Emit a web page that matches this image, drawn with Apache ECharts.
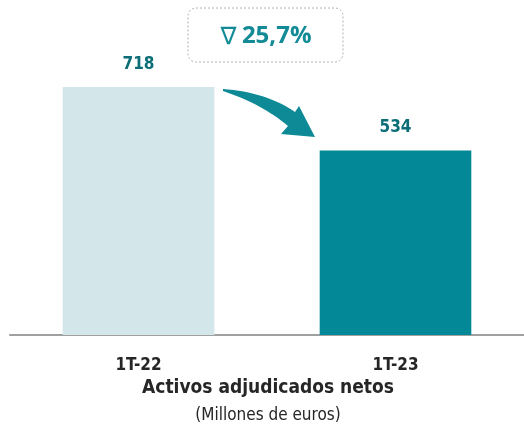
<!DOCTYPE html>
<html>
<head>
<meta charset="utf-8">
<script src="https://cdn.jsdelivr.net/npm/echarts@6/dist/echarts.min.js"></script>
<style>
  html, body { margin: 0; padding: 0; background: #fff; }
  #chart { width: 524px; height: 429px; }
</style>
</head>
<body>
<div id="chart"></div>
<script>
  // datos
  const categories = ['1T-22', '1T-23'];
  const values = [718, 534];
  const barColors = ['#d3e6e9', '#028896'];
  const changeSymbol = '\u2207';
  const changeLabel = '25,7%';

  const font = '"Liberation Sans Narrow", "DejaVu Sans Condensed", "Liberation Sans", Arial, sans-serif';
  const chart = echarts.init(document.getElementById('chart'));

  // contorno de la flecha curva (curvas cuadraticas muestreadas)
  function quad(p0, c, p1, n) {
    const pts = [];
    for (let i = 0; i <= n; i++) {
      const t = i / n, u = 1 - t;
      pts.push([u * u * p0[0] + 2 * u * t * c[0] + t * t * p1[0],
                u * u * p0[1] + 2 * u * t * c[1] + t * t * p1[1]]);
    }
    return pts;
  }
  const arrowPts = quad([223, 89], [266, 92], [295, 112], 16)
    .concat([[299, 106], [315, 137], [281, 134]])
    .concat(quad([288, 126], [262, 104], [223, 91], 16));

  chart.setOption({
    animation: false,
    grid: { left: 10, right: -3, top: 87, bottom: 94 },
    xAxis: {
      type: 'category',
      data: categories,
      axisTick: { show: false },
      axisLine: { lineStyle: { color: '#a0a0a0', width: 2 } },
      axisLabel: {
        color: '#262626', fontFamily: font, fontWeight: 'bold', fontSize: 17, margin: 22
      }
    },
    yAxis: { type: 'value', min: 0, max: 718, show: false, splitLine: { show: false } },
    series: [{
      type: 'bar',
      barWidth: '59%',
      data: values.map((v, i) => ({ value: v, itemStyle: { color: barColors[i] } })),
      label: {
        show: true, position: 'top', distance: 14,
        color: '#0b6d76', fontFamily: font, fontWeight: 'bold', fontSize: 17
      }
    }],
    graphic: [
      {
        type: 'rect',
        shape: { x: 188, y: 8, width: 155, height: 54, r: 8 },
        style: { fill: '#fff', stroke: '#b0b0b0', lineWidth: 1, lineDash: [2, 2] }
      },
      {
        type: 'text', x: 266, y: 36,
        style: {
          text: '{s|' + changeSymbol + '} {v|' + changeLabel + '}',
          align: 'center', verticalAlign: 'middle',
          rich: {
            s: { fill: '#138b97', font: '24px "DejaVu Sans", sans-serif', padding: [4, 2, 0, 0] },
            v: { fill: '#138b97', font: 'bold 24px "Open Sans", sans-serif' }
          }
        }
      },
      {
        type: 'polygon',
        shape: { points: arrowPts },
        style: { fill: '#0e8996' }
      },
      {
        type: 'text', x: 268, y: 388,
        style: { text: 'Activos adjudicados netos', fill: '#262626', font: 'bold 19px ' + font,
                 align: 'center', verticalAlign: 'middle' }
      },
      {
        type: 'text', x: 268, y: 416,
        style: { text: '(Millones de euros)', fill: '#262626', font: '17px ' + font,
                 align: 'center', verticalAlign: 'middle' }
      }
    ]
  });
</script>
</body>
</html>
